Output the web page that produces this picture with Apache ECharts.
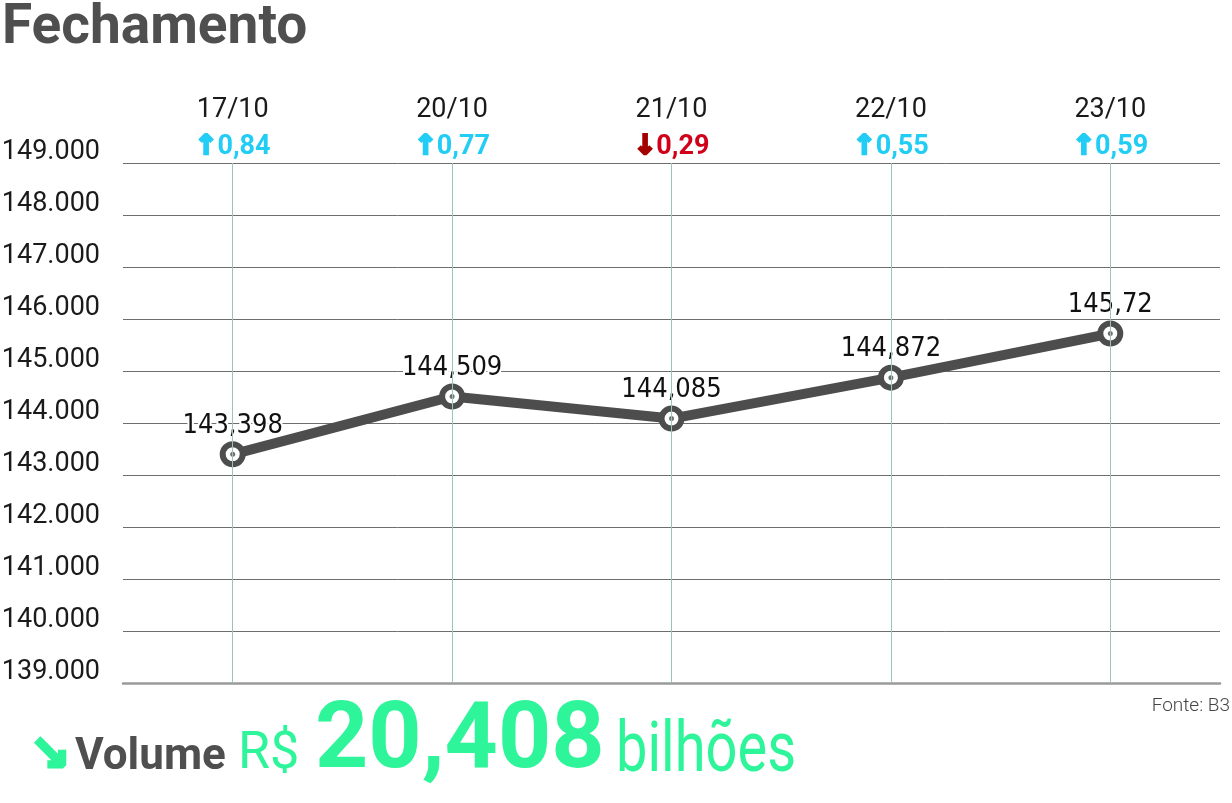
<!DOCTYPE html>
<html><head><meta charset="utf-8">
<script src="https://cdn.jsdelivr.net/npm/echarts@6/dist/echarts.min.js"></script>
<style>html,body{margin:0;padding:0;background:#fff}#c{width:1232px;height:803px}</style>
</head><body><div id="c"></div>
<script>
var categories = ['17/10', '20/10', '21/10', '22/10', '23/10'];
var closes = [143398, 144509, 144085, 144872, 145720];
var changes = [0.84, 0.77, -0.29, 0.55, 0.59];
var yTicks = {min: 139000, max: 149000, interval: 1000};
var volumeText = {label: 'Volume', currency: 'R$', amount: '20,408', unit: 'bilhões'};
var source = 'Fonte: B3';

var GREEN = '#2ef59a';
var CYAN = '#22cdf5';
var NARROW = "'Liberation Sans Narrow', 'DejaVu Sans Condensed', 'Roboto Condensed', sans-serif";
var chart = echarts.init(document.getElementById('c'));
function fmtChange(v){ return Math.abs(v).toFixed(2).replace('.', ','); }
function fmtClose(v){ return String(v/1000).replace('.', ','); }
function fmtTick(v){ return String(v).replace(/\B(?=(\d{3})+(?!\d))/g, '.'); }

chart.setOption({
  animation: false,
  backgroundColor: '#fff',
  title: {
    text: 'Fechamento', left: -3, top: -3,
    textStyle: {fontFamily: 'Roboto', fontWeight: 'bold', fontSize: 55, color: '#4f4f4f'}
  },
  grid: {left: 123, right: 12, top: 163, bottom: 120, containLabel: false, outerBoundsMode: 'none'},
  xAxis: [{
    type: 'category', data: categories, position: 'top', boundaryGap: true,
    axisLine: {show: false}, axisTick: {show: false}, splitLine: {show: false},
    axisLabel: {
      margin: -2, interval: 0,
      formatter: function(val, idx){
        var c = changes[idx];
        var up = c >= 0;
        return '{d|' + val + '}\n' + (up ? '{au|↑}{u|' : '{ad|↓}{n|') + fmtChange(c) + '}';
      },
      rich: {
        d: {fontFamily: 'Roboto', fontSize: 27, color: '#1a1a1a', lineHeight: 38},
        au: {fontFamily: 'DejaVu Sans', fontWeight: 'bold', fontSize: 27, color: CYAN, lineHeight: 36,
             textBorderColor: CYAN, textBorderWidth: 2.5},
        u: {fontFamily: 'Roboto', fontWeight: 'bold', fontSize: 27, color: CYAN, lineHeight: 36},
        ad: {fontFamily: 'DejaVu Sans', fontWeight: 'bold', fontSize: 27, color: '#a30000', lineHeight: 36,
             textBorderColor: '#a30000', textBorderWidth: 2.5},
        n: {fontFamily: 'Roboto', fontWeight: 'bold', fontSize: 27, color: '#d0021b', lineHeight: 36}
      }
    }
  }, {
    type: 'category', data: categories, position: 'bottom',
    axisLine: {show: true, lineStyle: {color: '#9a9a9a', width: 2.5}},
    axisTick: {show: false}, axisLabel: {show: false}, splitLine: {show: false}
  }],
  yAxis: {
    type: 'value', min: yTicks.min, max: yTicks.max, interval: yTicks.interval,
    axisLine: {show: false}, axisTick: {show: false},
    splitLine: {lineStyle: {color: '#6e6e6e', width: 1}},
    axisLabel: {
      margin: 23, formatter: fmtTick, verticalAlign: 'bottom', lineHeight: 22,
      fontFamily: 'Roboto', fontSize: 27, color: '#1a1a1a'
    }
  },
  series: [{
    type: 'line', data: closes, z: 1, symbol: 'none', lineStyle: {width: 0}, silent: true,
    markLine: {
      silent: true, symbol: 'none', label: {show: false},
      lineStyle: {color: '#9cc4b8', width: 1, type: 'solid'},
      data: categories.map(function(c){ return {xAxis: c}; })
    }
  }, {
    type: 'line', data: closes, z: 3,
    lineStyle: {color: '#4d4d4d', width: 10},
    symbol: 'circle', symbolSize: 20,
    itemStyle: {color: '#fff', borderColor: '#4d4d4d', borderWidth: 6},
    label: {
      show: true, position: 'top', distance: 2, formatter: function(p){ return fmtClose(p.value); },
      fontFamily: NARROW, fontSize: 27, color: '#111',
      textBorderColor: '#fff', textBorderWidth: 4
    }
  }, {
    type: 'scatter', data: closes, z: 4, symbol: 'circle', symbolSize: 5,
    itemStyle: {color: '#4d4d4d'}, silent: true
  }],
  graphic: [
    {type: 'text', right: 2, top: 697, style: {text: source, fontFamily: 'Roboto', fontWeight: 300, fontSize: 19, fill: '#444'}},
    {type: 'text', left: 28, top: 732, style: {text: '↘', fontFamily: 'DejaVu Sans', fontWeight: 'bold', fontSize: 48, fill: GREEN,
      stroke: GREEN, lineWidth: 3.5}},
    {type: 'text', left: 75, top: 736, style: {text: volumeText.label, fontFamily: 'Roboto', fontWeight: 'bold', fontSize: 44, fill: '#4f4f4f'}},
    {type: 'text', left: 238, top: 729, style: {text: volumeText.currency, fontFamily: 'Roboto', fontSize: 52, fill: GREEN}},
    {type: 'text', left: 315, top: 697, style: {text: volumeText.amount, fontFamily: 'Roboto', fontWeight: 'bold', fontSize: 93, fill: GREEN}},
    {type: 'text', left: 616, top: 718, scaleX: 0.8, style: {text: volumeText.unit, fontFamily: 'Roboto', fontSize: 70, fill: GREEN}}
  ]
});
</script></body></html>
